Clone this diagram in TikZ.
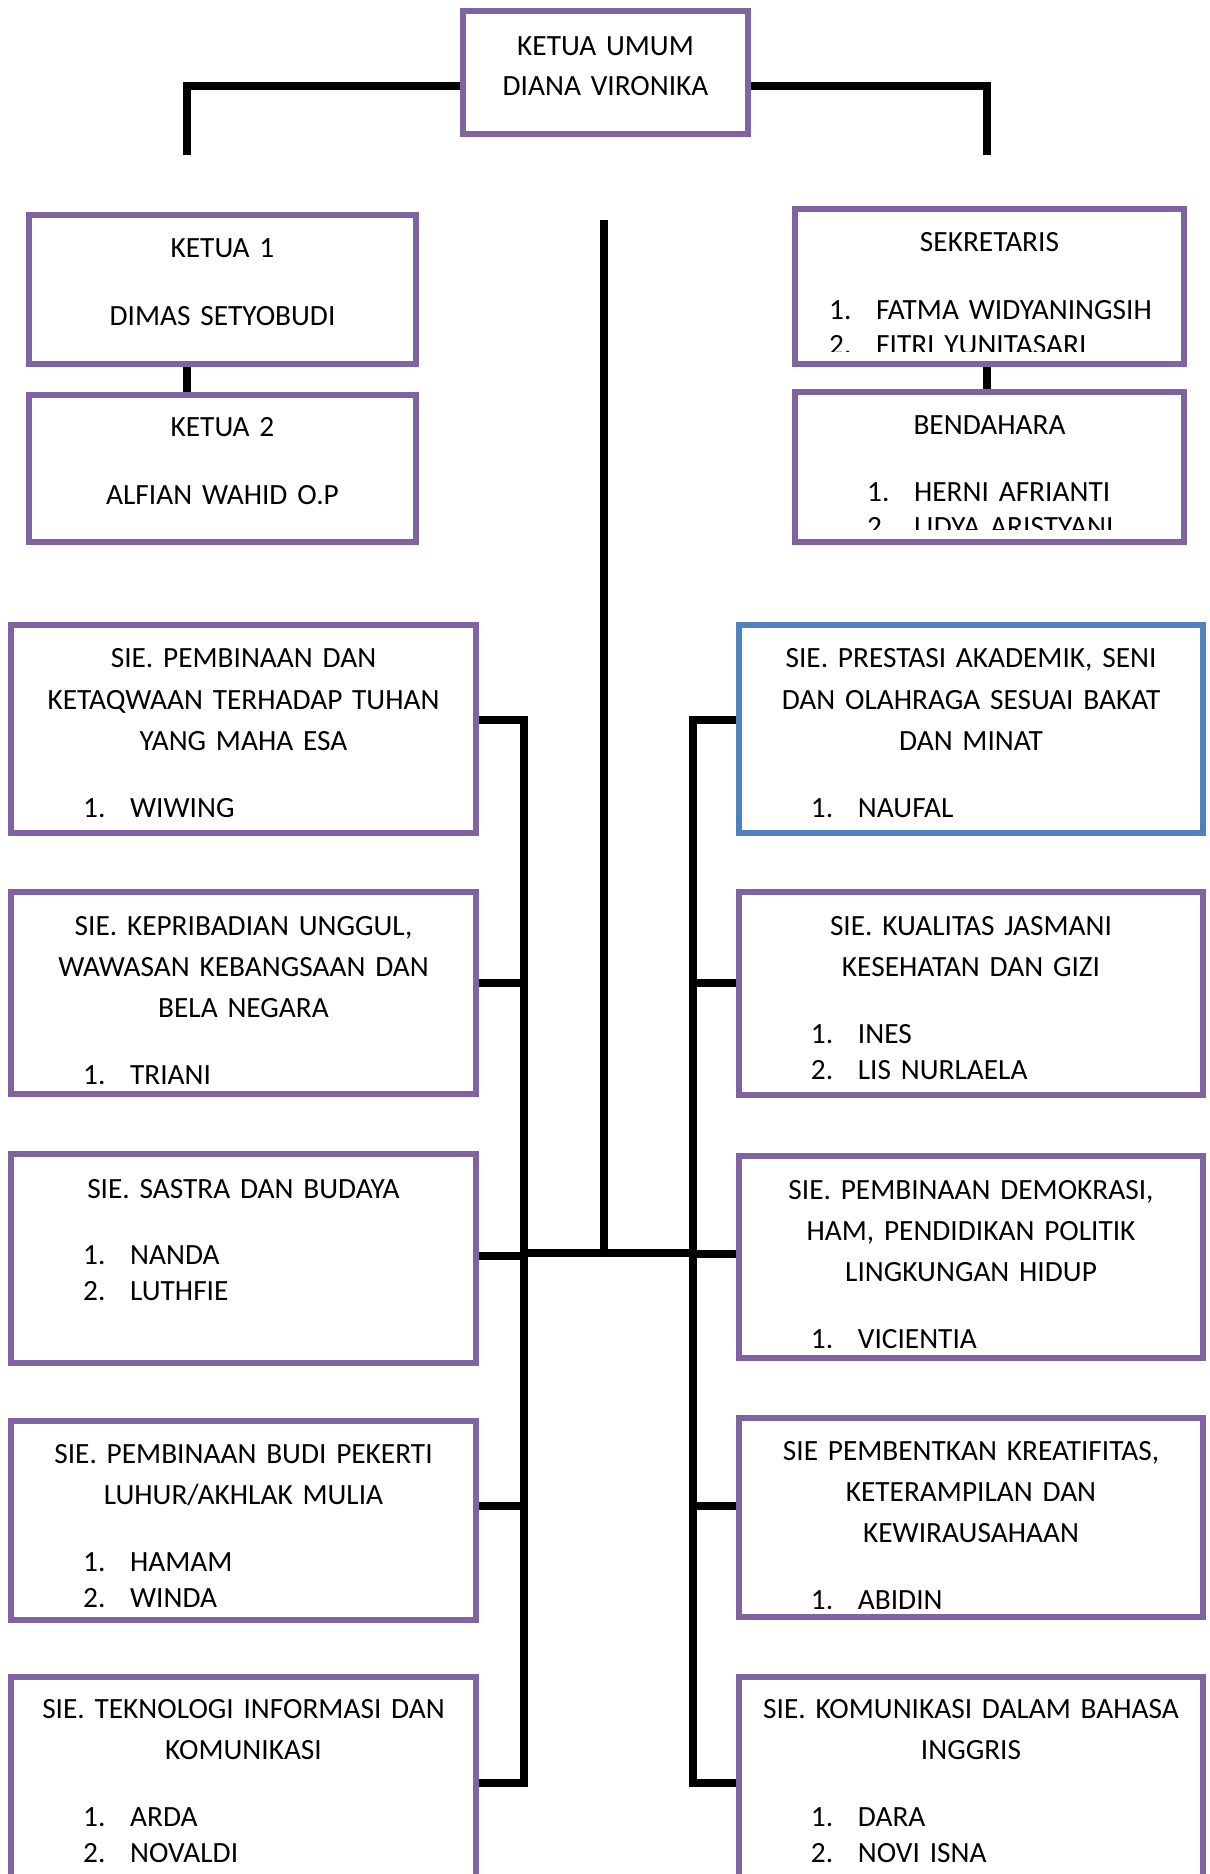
\documentclass[tikz,border=0pt]{standalone}
\usepackage{fontspec}
\setmainfont{Carlito}
\usetikzlibrary{fit}

\definecolor{boxpurple}{HTML}{8064A2}
\definecolor{boxblue}{HTML}{4F81BD}

\newlength\px
\setlength\px{0.375pt}
% member line: number and name at fixed tabs from the box edge
\newcommand{\mem}[3][75]{\makebox[\linewidth][l]{\hspace*{#1\px}\makebox[47\px][l]{#2}#3}}
% text of a box, clipped to the inside of the box
\newcommand{\boxtext}[5][6pt]{%
  \begin{scope}
    \clip (#2.north west) rectangle ([yshift=#1]#2.south east);
    \node[txt, text width=#4] (#2-txt) at (#2.center |- 0,#3) {#5};
  \end{scope}}

\begin{document}
\begin{tikzpicture}[x=0.375pt, y=-0.375pt,
    box/.style={draw=boxpurple, line width=2.5pt, inner sep=0pt},
    bluebox/.style={box, draw=boxblue},
    txt/.style={inner sep=0pt, anchor=base, align=center,
      font=\fontsize{11}{15.5}\selectfont},
    conn/.style={line width=3pt, line join=miter}]
  \clip (0,0) rectangle (1210,1874);

  % top part
  \node[box, fit={(463,11) (748,134)}] (umum) {};
  \node[box, fit={(29,215) (416,364)}] (k1) {};
  \node[box, fit={(29,395) (416,542)}] (k2) {};
  \node[box, fit={(795,209) (1184,364)}] (sk) {};
  \node[box, fit={(795,392) (1184,542)}] (bd) {};

  % sie boxes, left
  \node[box, fit={(11,625) (476,833)}] (l1) {};
  \node[box, fit={(11,892) (476,1094)}] (l2) {};
  \node[box, fit={(11,1154) (476,1363)}] (l3) {};
  \node[box, fit={(11,1421) (476,1620)}] (l4) {};
  \node[box, fit={(11,1677) (476,1890)}] (l5) {};
  % sie boxes, right
  \node[bluebox, fit={(739,625) (1203,833)}] (r1) {};
  \node[box, fit={(739,892) (1203,1095)}] (r2) {};
  \node[box, fit={(739,1156) (1203,1358)}] (r3) {};
  \node[box, fit={(739,1418) (1203,1617)}] (r4) {};
  \node[box, fit={(739,1677) (1203,1890)}] (r5) {};

  % texts
  \boxtext{umum}{56}{109pt}{KETUA UMUM\\[-0.5pt] DIANA VIRONIKA}
  \boxtext{k1}{258}{148pt}{KETUA 1\\[10pt] DIMAS SETYOBUDI}
  \boxtext{k2}{437}{148pt}{KETUA 2\\[10pt] ALFIAN WAHID O.P}
  \boxtext{sk}{252}{148pt}{SEKRETARIS\\[10pt]
    \mem[37]{1.}{FATMA WIDYANINGSIH}\\[-2.4pt] \mem[37]{2.}{FITRI YUNITASARI}}
  \boxtext{bd}{435}{148pt}{BENDAHARA\\[9.6pt]
    \mem{1.}{HERNI AFRIANTI}\\[-2.7pt] \mem{2.}{LIDYA ARISTYANI}}

  \boxtext{l1}{668}{176.5pt}{SIE. PEMBINAAN DAN\\ KETAQWAAN TERHADAP TUHAN\\ YANG MAHA ESA\\[9.5pt]
    \mem{1.}{WIWING}}
  \boxtext[4.6pt]{l2}{935}{176.5pt}{SIE. KEPRIBADIAN UNGGUL,\\ WAWASAN KEBANGSAAN DAN\\ BELA NEGARA\\[9.5pt]
    \mem{1.}{TRIANI}}
  \boxtext{l3}{1198}{176.5pt}{SIE. SASTRA DAN BUDAYA\\[9.5pt]
    \mem{1.}{NANDA}\\[-2pt] \mem{2.}{LUTHFIE}}
  \boxtext{l4}{1463}{176.5pt}{SIE. PEMBINAAN BUDI PEKERTI\\ LUHUR/AKHLAK MULIA\\[9.5pt]
    \mem{1.}{HAMAM}\\[-2pt] \mem{2.}{WINDA}}
  \boxtext{l5}{1718}{176.5pt}{SIE. TEKNOLOGI INFORMASI DAN\\ KOMUNIKASI\\[9.5pt]
    \mem{1.}{ARDA}\\[-2pt] \mem{2.}{NOVALDI}}

  \boxtext{r1}{668}{176.3pt}{SIE. PRESTASI AKADEMIK, SENI\\ DAN OLAHRAGA SESUAI BAKAT\\ DAN MINAT\\[9.5pt]
    \mem{1.}{NAUFAL}}
  \boxtext{r2}{935}{176.3pt}{SIE. KUALITAS JASMANI\\ KESEHATAN DAN GIZI\\[9.5pt]
    \mem{1.}{INES}\\[-2pt] \mem{2.}{LIS NURLAELA}}
  \boxtext[4.8pt]{r3}{1199}{176.3pt}{SIE. PEMBINAAN DEMOKRASI,\\ HAM, PENDIDIKAN POLITIK\\ LINGKUNGAN HIDUP\\[9.5pt]
    \mem{1.}{VICIENTIA}}
  \boxtext[4.6pt]{r4}{1460}{176.3pt}{SIE PEMBENTKAN KREATIFITAS,\\ KETERAMPILAN DAN\\ KEWIRAUSAHAAN\\[9.5pt]
    \mem{1.}{ABIDIN}}
  \boxtext{r5}{1718}{176.3pt}{SIE. KOMUNIKASI DALAM BAHASA\\ INGGRIS\\[9.5pt]
    \mem{1.}{DARA}\\[-2pt] \mem{2.}{NOVI ISNA}}

  % connectors
  \coordinate (lEnd) at (187,155);
  \coordinate (rEnd) at (987,155);
  \draw[conn] ([yshift=-5.2pt]umum.west) -| (lEnd);
  \draw[conn] ([yshift=-5.2pt]umum.east) -| (rEnd);
  \draw[conn] (k1.south -| lEnd) -- (k2.north -| lEnd);
  \draw[conn] (sk.south -| rEnd) -- (bd.north -| rEnd);

  \coordinate (cTop) at (604,220);
  \coordinate (cMid) at (604,1253);
  \coordinate (lb1) at (524,720);
  \coordinate (lb2) at (524,983);
  \coordinate (lb3) at (524,1256);
  \coordinate (lb4) at (524,1506);
  \coordinate (lb5) at (524,1783);
  \coordinate (rb1) at (693,720);
  \coordinate (rb2) at (693,983);
  \coordinate (rb3) at (693,1254);
  \coordinate (rb4) at (693,1506);
  \coordinate (rb5) at (693,1783);

  \draw[conn] (cTop) -- (cMid);
  \draw[conn] (cMid -| lb1) -- (cMid -| rb1);
  \draw[conn] (lb1 -| l1.east) -- (lb1) -- (lb5) -- (lb5 -| l5.east);
  \draw[conn] (rb1 -| r1.west) -- (rb1) -- (rb5) -- (rb5 -| r5.west);
  \foreach \i in {2,3,4} {
    \draw[conn] (lb\i) -- (lb\i -| l\i.east);
    \draw[conn] (rb\i) -- (rb\i -| r\i.west);
  }
\end{tikzpicture}
\end{document}
